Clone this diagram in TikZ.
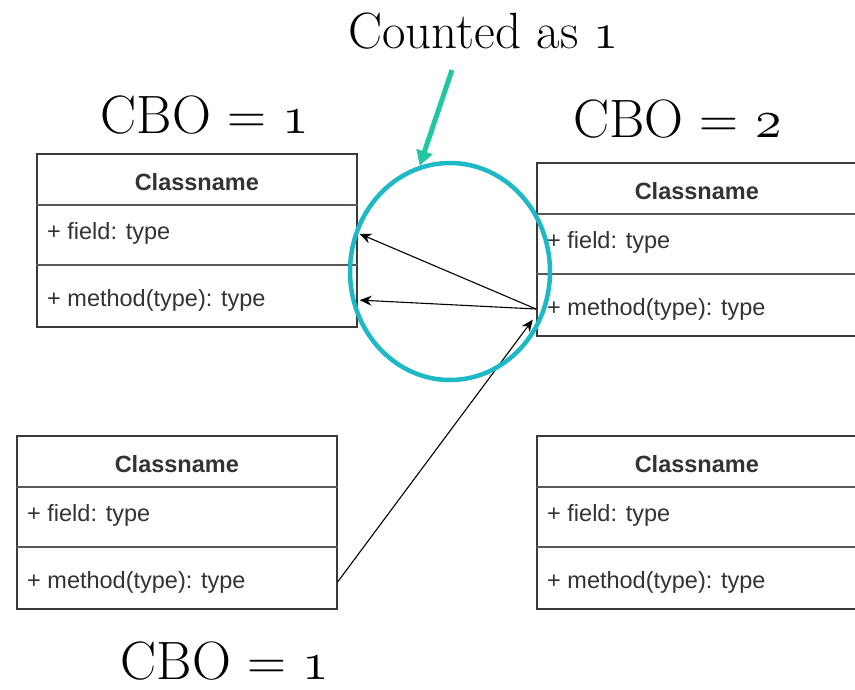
\documentclass[tikz,border=0pt]{standalone}
\usepackage{fix-cm}
\usepackage{fontspec}
\newfontfamily\umlfont{Liberation Sans}
\usetikzlibrary{arrows.meta,shapes.geometric,calc}

\definecolor{ringcyan}{HTML}{1DB9C6}
\definecolor{notegreen}{HTML}{22C6A0}
\definecolor{umlline}{HTML}{3A3A3A}
\definecolor{umltext}{HTML}{333333}

\tikzset{
  classbox/.style={draw=umlline, line width=1.6pt, fill=white,
    minimum width=320pt, minimum height=173pt, inner sep=0pt, anchor=north west},
  sepline/.style={draw=umlline!85, line width=1.8pt},
  classtitle/.style={font=\umlfont\bfseries\fontsize{23.5}{28}\selectfont,
    text=umltext, inner sep=0pt},
  member/.style={font=\umlfont\fontsize{23.5}{28}\selectfont,
    text=umltext, inner sep=0pt, anchor=west},
  metric/.style={font=\fontsize{54}{62}\selectfont, inner sep=0pt, anchor=base},
  remark/.style={font=\fontsize{51}{60}\selectfont, inner sep=0pt, anchor=base},
  dep/.style={draw=black, line width=1.1pt, shorten >=2pt,
    -{Stealth[length=12pt,width=10pt]}},
  ring/.style={ellipse, draw=ringcyan, line width=4.5pt,
    minimum width=200pt, minimum height=217pt, inner sep=0pt},
  pointer/.style={draw=notegreen, line width=5pt,
    -{Triangle[length=15pt,width=16pt]}}
}

% UML class box: name, left edge, top edge
\newcommand\umlclass[3]{%
  \node[classbox] (#1) at (#2,#3) {};
  \draw[sepline] ($(#1.north west)+(0,52)$) -- ($(#1.north east)+(0,52)$);
  \draw[sepline] ($(#1.north west)+(0,112)$) -- ($(#1.north east)+(0,112)$);
  \node[classtitle] (#1t) at ($(#1.north)+(0,29.5)$) {Classname};
  \node[member] (#1f) at ($(#1.north west)+(11,80)$) {+ field: type};
  \node[member] (#1m) at ($(#1.north west)+(11,147)$) {+ method(type): type};
}

\begin{document}
\begin{tikzpicture}[x=1pt, y=-1pt]
  \path[use as bounding box, clip] (0,0) rectangle (855,689);

  % class boxes
  \umlclass{A}{36}{153}
  \umlclass{B}{536}{162}
  \umlclass{C}{16}{435}
  \umlclass{D}{536}{435}

  % coupling counts
  \node[remark] (note) at (483.5,48) {Counted as $\mathnormal{1}$};
  \node[metric] (cboA) at (205,133) {CBO = $\mathnormal{1}$};
  \node[metric] (cboB) at (677.5,137) {CBO = $\mathnormal{2}$};
  \node[metric] (cboC) at (225,679) {CBO = $\mathnormal{1}$};

  % dependencies
  \coordinate (Bout) at (B.west |- Bm);
  \coordinate (Bin) at ($(Bout)+(-2,9)$);
  \draw[dep] (Bout) -- (A.east |- Af);
  \draw[dep] (Bout) -- (A.east |- Am);
  \draw[dep] (C.east |- Cm) -- (Bin);

  % highlighted pair of dependencies
  \node[ring] (ring) at (450,271.5) {};
  \coordinate (notetail) at (452,70);
  \draw[pointer] (notetail) -- (ring.106);
\end{tikzpicture}
\end{document}
